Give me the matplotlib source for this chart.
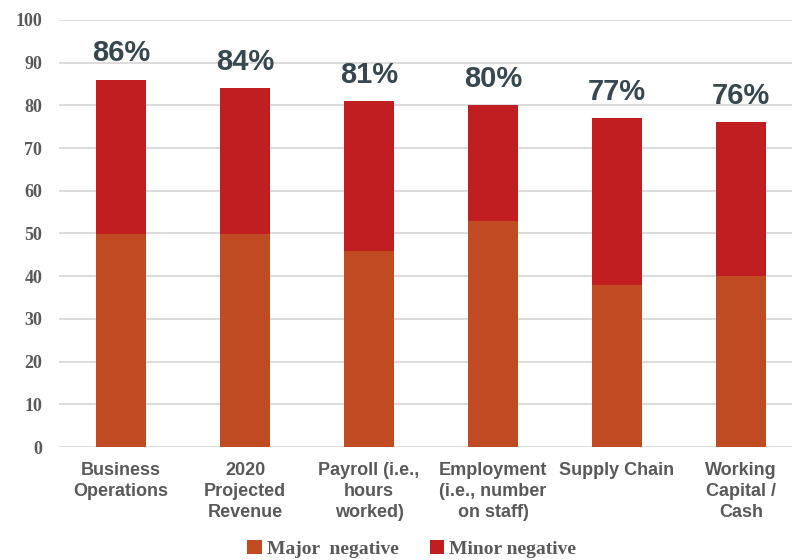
import numpy as np
import matplotlib.pyplot as plt

# survey categories and shares of respondents (%)
categories = ['Business\nOperations', '2020\nProjected\nRevenue', 'Payroll (i.e.,\nhours\nworked)',
              'Employment\n(i.e., number\non staff)', 'Supply Chain', 'Working\nCapital /\nCash']
major_negative = [50, 50, 46, 53, 38, 40]
minor_negative = [36, 34, 35, 27, 39, 36]
totals = [86, 84, 81, 80, 77, 76]

major_color = '#C04B22'
minor_color = '#C01E20'
text_gray = '#595959'

fig = plt.figure(figsize=(7.92, 5.6), dpi=100)
ax = fig.add_axes([59 / 792, 113 / 560, 1 - 59 / 792, 427 / 560])

x = np.arange(len(categories))
width = 0.4
ax.bar(x, major_negative, width, color=major_color, label='Major  negative', zorder=3)
ax.bar(x, minor_negative, width, bottom=major_negative, color=minor_color,
       label='Minor negative', zorder=3)

# total labels above each stack
for xi, t in zip(x, totals):
    ax.annotate(f'{t}%', (xi, t), xytext=(0, 19), textcoords='offset points',
                ha='center', va='center', fontsize=21, fontweight='bold',
                color='#37474F', family='Liberation Sans')

ax.set_xlim(-0.5, (792 - 59) / 124 - 0.5)
ax.set_ylim(0, 100)
ax.set_yticks(range(0, 101, 10))
ax.yaxis.grid(True, color='#D9D9D9', linewidth=1.3, zorder=0)
ax.set_axisbelow(True)
for s in ax.spines.values():
    s.set_visible(False)
ax.tick_params(axis='both', length=0)
ax.tick_params(axis='y', pad=12)

for lbl in ax.get_yticklabels():
    lbl.set_family('Liberation Serif')
    lbl.set_fontsize(13)
    lbl.set_fontweight('bold')
    lbl.set_color(text_gray)

ax.set_xticks(x)
ax.set_xticklabels(categories, fontsize=13, fontweight='bold', color=text_gray,
                   family='Liberation Sans', linespacing=1.3, va='top')
ax.tick_params(axis='x', pad=11)

leg = fig.legend(loc='center', bbox_to_anchor=(0.52, 0.02), ncol=2, frameon=False,
                 handlelength=0.75, handleheight=0.75, handletextpad=0.25, columnspacing=1.6,
                 prop={'family': 'Liberation Serif', 'size': 14, 'weight': 'bold'})
for t in leg.get_texts():
    t.set_color(text_gray)

plt.savefig('out.png', dpi=100)
